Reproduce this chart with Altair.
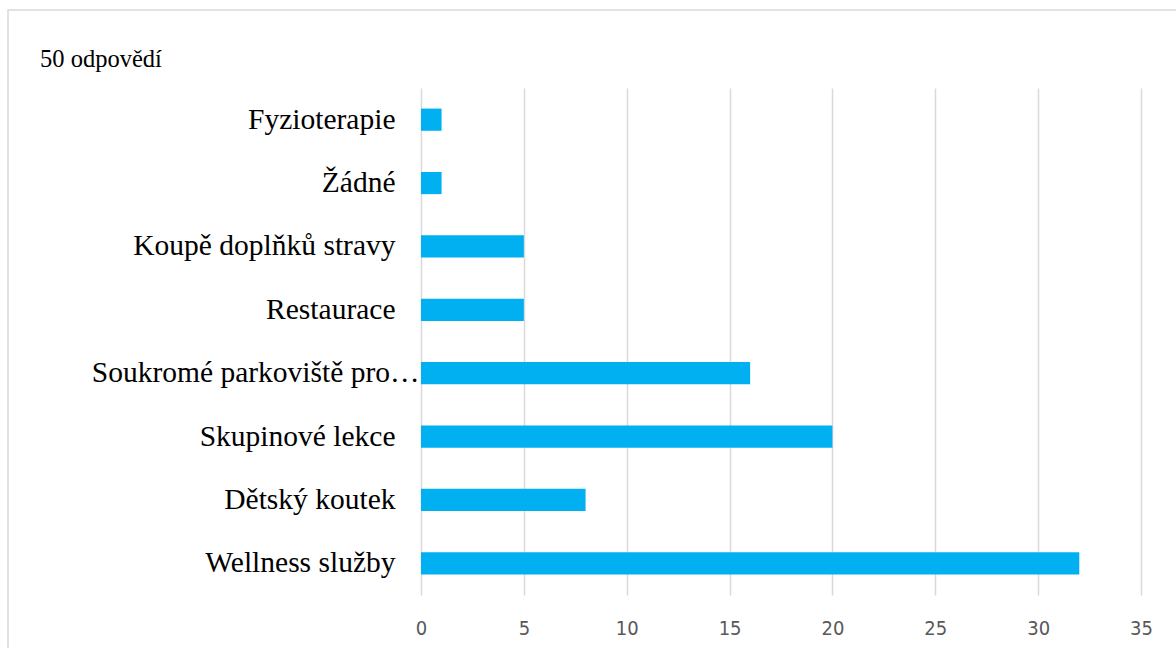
import altair as alt
import pandas as pd

categories = [
    "Fyzioterapie",
    "Žádné",
    "Koupě doplňků stravy",
    "Restaurace",
    "Soukromé parkoviště pro…",
    "Skupinové lekce",
    "Dětský koutek",
    "Wellness služby",
]
values = [1, 1, 5, 5, 16, 20, 8, 32]
x_ticks = [0, 5, 10, 15, 20, 25, 30, 35]
title_text = "50 odpovědí"

df = pd.DataFrame({"kategorie": categories, "pocet": values})
one = pd.DataFrame({"t": [title_text]})

W, H = 720, 507
PAD = {"left": 421, "top": 88, "right": 35, "bottom": 53}

bars = alt.Chart(df).mark_bar(color="#00b0f0").encode(
    x=alt.X(
        "pocet:Q",
        scale=alt.Scale(domain=[0, 35], nice=False, zero=True),
        axis=alt.Axis(
            values=x_ticks,
            title=None,
            grid=True,
            gridColor="#d9d9d9",
            gridWidth=1.5,
            domain=False,
            ticks=False,
            labelFlush=False,
            labelPadding=23,
            labelFont="Liberation Sans Narrow, DejaVu Sans Condensed, sans-serif",
            labelFontSize=20,
            labelColor="#595959",
        ),
    ),
    y=alt.Y(
        "kategorie:N",
        sort=categories,
        scale=alt.Scale(paddingInner=0.65, paddingOuter=0.325),
        axis=alt.Axis(
            title=None,
            domain=False,
            ticks=False,
            grid=False,
            labelPadding={
                "condition": {"test": "indexof(datum.value, '…') >= 0", "value": 2},
                "value": 26,
            },
            labelFont="Liberation Serif",
            labelFontSize=29.5,
            labelColor="#000000",
            labelLimit=400,
        ),
    ),
)

frame = alt.Chart(one).mark_rect(
    fill=None, stroke="#d9d9d9", strokeWidth=1.5, clip=False
).encode(
    x=alt.value(-413),
    x2=alt.value(W + PAD["right"] + 20),
    y=alt.value(-78),
    y2=alt.value(H + PAD["bottom"] + 20),
)

title = alt.Chart(one).mark_text(
    font="Liberation Serif",
    fontSize=24.5,
    align="left",
    baseline="middle",
    color="#000000",
).encode(text="t:N", x=alt.value(-381), y=alt.value(-28))

chart = (
    alt.layer(frame, bars, title)
    .properties(
        width=W,
        height=H,
        padding=PAD,
        autosize=alt.AutoSizeParams(type="none"),
        background="white",
    )
    .configure_view(stroke=None)
)

chart.save("out.html", embed_options={"renderer": "svg", "actions": False})
